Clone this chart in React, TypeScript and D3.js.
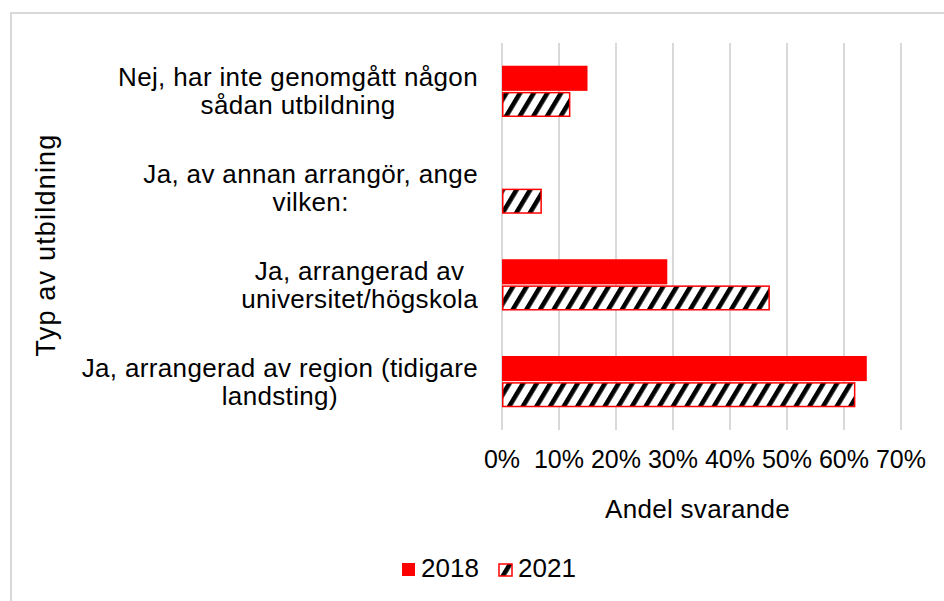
import React, { useEffect, useRef } from 'react';
import * as d3 from 'd3';

// kategorier uppifrån och ned
const categories = [
  'Nej, har inte genomgått någon sådan utbildning',
  'Ja, av annan arrangör, ange vilken:',
  'Ja, arrangerad av universitet/högskola',
  'Ja, arrangerad av region (tidigare landsting)',
];
// radbrytningar som i originalet
const categoryLines = [
  ['Nej, har inte genomgått någon', 'sådan utbildning'],
  ['Ja, av annan arrangör, ange', 'vilken:'],
  ['Ja, arrangerad av ', 'universitet/högskola'],
  ['Ja, arrangerad av region (tidigare', 'landsting)'],
];
const series = ['2018', '2021'];
const values2018 = [0.15, 0, 0.29, 0.64];
const values2021 = [0.12, 0.07, 0.47, 0.62];
const ticks = [0, 0.1, 0.2, 0.3, 0.4, 0.5, 0.6, 0.7];

const FONT = "'Liberation Sans', Arial, sans-serif";

const App = () => {
  const ref = useRef<SVGSVGElement>(null);

  useEffect(() => {
    drawChart();
  }, []);

  const drawChart = () => {
    const svg = d3.select(ref.current);
    svg.selectAll('*').remove();

    const width = 944;
    const height = 601;
    const margin = { top: 43, right: 43, bottom: 171, left: 502 };

    const defs = svg.append('defs');
    const pat = defs.append('pattern')
      .attr('id', 'stripes')
      .attr('patternUnits', 'userSpaceOnUse')
      .attr('width', 11.7)
      .attr('height', 20)
      .attr('patternTransform', 'rotate(31)');
    pat.append('rect').attr('width', 11.7).attr('height', 20).attr('fill', '#fff');
    pat.append('rect').attr('width', 4.6).attr('height', 20).attr('fill', '#000');

    // ramen runt diagrammet
    svg.append('rect')
      .attr('x', 11)
      .attr('y', 13)
      .attr('width', 960)
      .attr('height', 620)
      .attr('fill', 'none')
      .attr('stroke', '#d9d9d9')
      .attr('stroke-width', 2);

    const x = d3.scaleLinear()
      .domain([0, 0.7])
      .range([margin.left, width - margin.right]);

    const y = d3.scaleBand()
      .domain(categories)
      .range([margin.top, height - margin.bottom])
      .paddingInner(0.47)
      .paddingOuter(0.235);

    const inner = d3.scaleBand()
      .domain(series)
      .range([0, y.bandwidth()])
      .paddingInner(0.04);

    // stödlinjer
    svg.append('g')
      .selectAll('line')
      .data(ticks)
      .enter().append('line')
      .attr('x1', d => x(d))
      .attr('x2', d => x(d))
      .attr('y1', margin.top)
      .attr('y2', height - margin.bottom)
      .attr('stroke', '#d9d9d9')
      .attr('stroke-width', 2);

    // staplar 2018
    svg.append('g')
      .selectAll('rect')
      .data(values2018)
      .enter().append('rect')
      .attr('x', x(0))
      .attr('y', (d, i) => y(categories[i])! + inner('2018')!)
      .attr('width', d => x(d) - x(0))
      .attr('height', inner.bandwidth())
      .attr('fill', '#ff0000');

    // staplar 2021
    svg.append('g')
      .selectAll('rect')
      .data(values2021)
      .enter().append('rect')
      .attr('x', x(0) + 0.75)
      .attr('y', (d, i) => y(categories[i])! + inner('2021')! + 0.75)
      .attr('width', d => Math.max(0, x(d) - x(0) - 1.5))
      .attr('height', inner.bandwidth() - 1.5)
      .attr('fill', 'url(#stripes)')
      .attr('stroke', '#ff0000')
      .attr('stroke-width', 1.5);

    // x-axelns etiketter
    svg.append('g')
      .selectAll('text')
      .data(ticks)
      .enter().append('text')
      .attr('x', d => x(d))
      .attr('y', 468)
      .attr('text-anchor', 'middle')
      .style('font-family', FONT)
      .style('font-size', '25px')
      .style('fill', '#000')
      .text(d => d3.format('.0%')(d));

    // kategorietiketter, centrerade kring bredaste raden
    const ls = 0.35;
    const ctx = document.createElement('canvas').getContext('2d')!;
    ctx.font = `26px ${FONT}`;
    const labelRight = 478;
    const lineH = 28;
    categoryLines.forEach((lines, i) => {
      const maxW = d3.max(lines, l => ctx.measureText(l.trim()).width + l.trim().length * ls)!;
      const cx = labelRight - maxW / 2;
      const cy = y(categories[i])! + y.bandwidth() / 2;
      lines.forEach((l, j) => {
        svg.append('text')
          .attr('x', cx)
          .attr('y', cy + (j - (lines.length - 1) / 2) * lineH + 9)
          .attr('text-anchor', 'middle')
          .style('font-family', FONT)
          .style('font-size', '26px')
          .style('letter-spacing', `${ls}px`)
          .style('fill', '#000')
          .text(l.trim());
      });
    });

    // axeltitlar
    svg.append('text')
      .attr('x', (x(0) + x(0.7)) / 2 - 4)
      .attr('y', 518)
      .attr('text-anchor', 'middle')
      .style('font-family', FONT)
      .style('font-size', '26px')
      .style('letter-spacing', '0.3px')
      .text('Andel svarande');

    svg.append('text')
      .attr('transform', `translate(55,${245}) rotate(-90)`)
      .attr('text-anchor', 'middle')
      .style('font-family', FONT)
      .style('font-size', '27px')
      .style('letter-spacing', '1.2px')
      .text('Typ av utbildning');

    // förklaring
    const legend = svg.append('g');
    legend.append('rect')
      .attr('x', 402).attr('y', 563).attr('width', 13).attr('height', 13)
      .attr('fill', '#ff0000');
    legend.append('text')
      .attr('x', 421).attr('y', 577)
      .style('font-family', FONT).style('font-size', '26px')
      .text('2018');
    legend.append('rect')
      .attr('x', 499).attr('y', 564).attr('width', 13).attr('height', 12)
      .attr('fill', 'url(#stripes)')
      .attr('stroke', '#ff0000').attr('stroke-width', 1.5);
    legend.append('text')
      .attr('x', 518).attr('y', 577)
      .style('font-family', FONT).style('font-size', '26px')
      .text('2021');
  };

  return (
    <svg
      ref={ref}
      width={944}
      height={601}
      style={{ position: 'absolute', left: 0, top: 0, background: '#fff' }}
    />
  );
};

export default App;
